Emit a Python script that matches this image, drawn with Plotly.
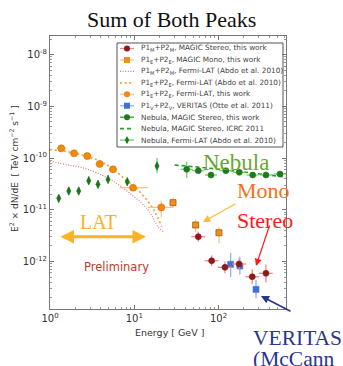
import plotly.graph_objects as go

# ---------------- data ----------------
# Fermi-LAT, this work (P1E+P2E) - orange circles
lat_E    = [1.36, 1.93, 2.77, 3.89, 5.59, 9.66, 20.9]
lat_Elo  = [1.20, 1.70, 2.45, 3.45, 4.95, 6.7, 14.5]
lat_Ehi  = [1.54, 2.18, 3.12, 4.40, 6.30, 14.5, 28.8]
lat_F    = [1.54e-10, 1.23e-10, 1.09e-10, 7.66e-11, 6.05e-11, 2.67e-11, 1.11e-11]
lat_Flo  = [1.45e-10, 1.16e-10, 1.02e-10, 7.1e-11, 5.5e-11, 2.35e-11, 7.1e-12]
lat_Fhi  = [1.63e-10, 1.30e-10, 1.16e-10, 8.2e-11, 6.6e-11, 3.0e-11, 1.5e-11]

# MAGIC Mono (P1E+P2E) - orange squares
mono_E   = [28.8, 53.5, 101]
mono_Elo = [26.5, 50.0, 95.0]
mono_Ehi = [31.5, 57.0, 107]
mono_F   = [1.37e-11, 5.06e-12, 3.59e-12]
mono_Flo = [1.07e-11, 3.7e-12, 2.25e-12]
mono_Fhi = [1.7e-11, 6.5e-12, 4.7e-12]

# MAGIC Stereo (P1M+P2M) - dark red circles
st_E   = [57.4, 82.8, 119, 175, 251, 365]
st_Elo = [47.5, 68.5, 98, 145, 208, 300]
st_Ehi = [69.5, 100, 144, 212, 304, 440]
st_F   = [3.01e-12, 1.03e-12, 7.69e-13, 8.91e-13, 5.06e-13, 5.89e-13]
st_Flo = [2.4e-12, 8.2e-13, 5.9e-13, 6.9e-13, 3.6e-13, 3.9e-13]
st_Fhi = [3.75e-12, 1.3e-12, 1.0e-12, 1.15e-12, 7.0e-13, 8.7e-13]

# VERITAS (P1V+P2V) - blue squares
ver_E   = [139, 179, 278]
ver_Elo = [133, 171, 266]
ver_Ehi = [145, 187, 290]
ver_F   = [8.79e-13, 8.17e-13, 2.88e-13]
ver_Flo = [5.0e-13, 5.5e-13, 1.95e-13]
ver_Fhi = [1.46e-12, 1.23e-12, 4.35e-13]

# Nebula, MAGIC Stereo, this work - green circles
nm_E   = [41.9, 57.4, 81.3, 122, 176, 254, 365, 535]
nm_Elo = [35.5, 48.6, 68.9, 103, 149, 215, 309, 453]
nm_Ehi = [49.4, 67.7, 95.9, 144, 208, 300, 431, 631]
nm_F   = [6.05e-11, 5.69e-11, 4.69e-11, 5.69e-11, 5.30e-11, 4.69e-11, 4.69e-11, 4.91e-11]
nm_Flo = [4.1e-11, 5.2e-11, 4.3e-11, 5.25e-11, 4.9e-11, 4.3e-11, 4.3e-11, 4.5e-11]
nm_Fhi = [8.5e-11, 6.2e-11, 5.1e-11, 6.15e-11, 5.7e-11, 5.1e-11, 5.1e-11, 5.35e-11]

# Nebula, MAGIC Stereo, ICRC 2011 - dashed line
nicrc_E = [30, 60, 120, 250, 640]
nicrc_F = [7.33e-11, 6.61e-11, 5.89e-11, 5.13e-11, 4.27e-11]

# Nebula, Fermi-LAT (Abdo et al. 2010) - green diamonds
nf_E   = [1.27, 1.67, 2.19, 2.88, 3.71, 4.88, 8.26, 18.6]
nf_F   = [1.66e-11, 2.30e-11, 2.30e-11, 3.64e-11, 3.10e-11, 3.86e-11, 3.48e-11, 7.02e-11]
nf_Flo = [1.38e-11, 1.92e-11, 1.92e-11, 3.03e-11, 2.58e-11, 3.22e-11, 2.90e-11, 5.1e-11]
nf_Fhi = [1.99e-11, 2.76e-11, 2.76e-11, 4.37e-11, 3.72e-11, 4.63e-11, 4.18e-11, 1.0e-10]

# Fermi-LAT (Abdo et al. 2010) curves
fm_E = [1.0, 1.64, 2.46, 3.71, 5.59, 8.41, 14.6, 19.1, 22.1]
fm_F = [8.75e-11, 7.33e-11, 6.46e-11, 5.06e-11, 3.59e-11, 2.23e-11, 9.9e-12, 4.69e-12, 3.76e-12]
fe_E = [1.0, 1.88, 2.75, 4.06, 5.59, 7.98, 11.1, 14.6, 17.6, 21.1]
fe_F = [1.46e-10, 1.27e-10, 1.07e-10, 8.5e-11, 6.12e-11, 3.76e-11, 2.40e-11, 1.43e-11, 9.0e-12, 4.69e-12]

# ---------------- layout helpers ----------------
W, H = 343, 366
L, R, T, B = 50, 57, 36, 57
PW, PH = W - L - R, H - T - B


def px(x):
    return (x - L) / PW


def py(y):
    return (H - B - y) / PH


def err(vals, lo, hi):
    return dict(plus=[h - v for v, h in zip(vals, hi)], minus=[v - l for v, l in zip(vals, lo)])


fig = go.Figure()


def add_points(E, F, Elo, Ehi, Flo, Fhi, symbol, mcolor, ecolor, size=6, lw=0.6, lcol=None):
    ex = err(E, Elo, Ehi) if Elo is not None else None
    ey = err(F, Flo, Fhi)
    fig.add_trace(go.Scatter(
        x=E, y=F, mode="markers",
        marker=dict(symbol=symbol, size=size, color=mcolor,
                    line=dict(width=lw, color=lcol or mcolor)),
        error_y=dict(type="data", symmetric=False, array=ey["plus"], arrayminus=ey["minus"],
                     color=ecolor, thickness=1.3, width=0),
        error_x=(dict(type="data", symmetric=False, array=ex["plus"], arrayminus=ex["minus"],
                      color=ecolor, thickness=1.3, width=0) if ex else None),
        showlegend=False, hoverinfo="skip"))


RED_DOT = "1px,1.6px"
ORA_DOT = "2px,2.6px"

# curves
fig.add_trace(go.Scatter(x=fm_E, y=fm_F, mode="lines", line=dict(color="#e07070", width=1.1, dash=RED_DOT),
                         line_shape="spline", showlegend=False))
fig.add_trace(go.Scatter(x=fe_E, y=fe_F, mode="lines", line=dict(color="#f7a13a", width=1.7, dash=ORA_DOT),
                         line_shape="spline", showlegend=False))
fig.add_trace(go.Scatter(x=nicrc_E, y=nicrc_F, mode="lines", line=dict(color="#2ca02c", width=1.6, dash="4px,3px"),
                         line_shape="spline", showlegend=False))

add_points(nf_E, nf_F, None, None, nf_Flo, nf_Fhi, "diamond-tall", "#1a741a", "#6fcf6f", size=6)
add_points(nm_E, nm_F, nm_Elo, nm_Ehi, nm_Flo, nm_Fhi, "circle", "#1d7a1d", "#6fcf6f", size=6)
add_points(lat_E, lat_F, lat_Elo, lat_Ehi, lat_Flo, lat_Fhi, "circle", "#f28a0c", "#f9c48a", size=7,
           lcol="#c86a00")
add_points(mono_E, mono_F, mono_Elo, mono_Ehi, mono_Flo, mono_Fhi, "square", "#f0901a", "#f9c48a", size=6,
           lw=0.8, lcol="#9a5a10")
add_points(ver_E, ver_F, ver_Elo, ver_Ehi, ver_Flo, ver_Fhi, "square", "#3f72d6", "#8fb0f0", size=6)
add_points(st_E, st_F, st_Elo, st_Ehi, st_Flo, st_Fhi, "circle", "#8b1a1a", "#ef8a8a", size=6)

# ---------------- manual legend ----------------
leg_labels = [
    "P1<sub>M</sub>+P2<sub>M</sub>, MAGIC Stereo, this work",
    "P1<sub>E</sub>+P2<sub>E</sub>, MAGIC Mono, this work",
    "P1<sub>M</sub>+P2<sub>M</sub>, Fermi-LAT (Abdo et al. 2010)",
    "P1<sub>E</sub>+P2<sub>E</sub>, Fermi-LAT (Abdo et al. 2010)",
    "P1<sub>E</sub>+P2<sub>E</sub>, Fermi-LAT, this work",
    "P1<sub>V</sub>+P2<sub>V</sub>, VERITAS (Otte et al. 2011)",
    "Nebula, MAGIC Stereo, this work",
    "Nebula, MAGIC Stereo, ICRC 2011",
    "Nebula, Fermi-LAT (Abdo et al. 2010)",
]
leg_line = [("#ef8a8a", "solid", 1.3), ("#f9c48a", "solid", 1.3), ("#e07070", RED_DOT, 1.1),
            ("#f7a13a", ORA_DOT, 1.7), ("#f9c48a", "solid", 1.3), ("#8fb0f0", "solid", 1.3),
            ("#2ca02c", "solid", 1.3), ("#2ca02c", "4px,3px", 1.6), ("#6fcf6f", "solid", 1.3)]
leg_marker = [("circle", "#8b1a1a"), ("square", "#f0901a"), None, None, ("circle", "#f28a0c"),
              ("square", "#3f72d6"), ("circle", "#1d7a1d"), None, ("diamond-tall", "#1a741a")]

fig.add_shape(type="rect", xref="paper", yref="paper", x0=px(117), x1=px(283), y0=py(147), y1=py(43),
              line=dict(color="#555555", width=1), fillcolor="white", layer="below")
row0, dy = 48.5, 11.45
for i, lab in enumerate(leg_labels):
    yy = row0 + i * dy
    col, dash, w = leg_line[i]
    fig.add_shape(type="line", xref="paper", yref="paper", x0=px(120), x1=px(134), y0=py(yy), y1=py(yy),
                  line=dict(color=col, width=w, dash=dash), layer="below")
    fig.add_annotation(xref="paper", yref="paper", x=px(139), y=py(yy), text=lab, showarrow=False,
                       xanchor="left", yanchor="middle", font=dict(family="DejaVu Sans", size=7.3, color="#444444"))
    if leg_marker[i]:
        sym, c = leg_marker[i]
        fig.add_trace(go.Scatter(x=[127], y=[yy], xaxis="x2", yaxis="y2", mode="markers",
                                 marker=dict(symbol=sym, size=6, color=c), showlegend=False, hoverinfo="skip"))

# ---------------- text annotations ----------------
def txt(x, y, s, size, color, family="Liberation Serif", xanchor="left", height=None):
    fig.add_annotation(xref="paper", yref="paper", x=px(x), y=py(y), text=s, showarrow=False,
                       xanchor=xanchor, yanchor="middle", height=height,
                       font=dict(family=family, size=size, color=color))


txt(171, 19, "Sum of Both Peaks", 22, "#111111", xanchor="center")
txt(201, 162, "Nebula", 23, "#6aa832")
txt(235, 190, "Mono", 22, "#f7701e")
txt(235, 220, "Stereo", 22, "#ff1a1a")
txt(78, 222, "LAT", 20, "#fbb12a")
txt(82, 267, "Preliminary", 11.5, "#c0392b", family="DejaVu Sans")
txt(251, 337, "VERITAS", 21.5, "#2b3590", height=21)
txt(251, 358, "(McCann", 21.5, "#2b3590", height=21)
txt(169, 332, "Energy [ GeV ]", 9.5, "#333333", family="DejaVu Sans", xanchor="center")
fig.add_annotation(xref="paper", yref="paper", x=px(14), y=py(169), xanchor="center", yanchor="middle",
                   text="E<sup>2</sup> × dN/dE  [ TeV cm<sup>−2</sup> s<sup>−1</sup> ]", showarrow=False,
                   textangle=-90, font=dict(family="DejaVu Sans", size=9, color="#333333"))


def arrow(x0, y0, x1, y1, color, width, head=2, size=1.0, side="end"):
    fig.add_annotation(xref="x2", yref="y2", axref="x2", ayref="y2",
                       x=x1, y=y1, ax=x0, ay=y0, text="", showarrow=True,
                       arrowcolor=color, arrowwidth=width, arrowhead=head, arrowsize=size,
                       startarrowhead=head, startarrowsize=size, arrowside=side)


arrow(59, 236.7, 146, 236.7, "#fbb12a", 3, head=2, size=0.9, side="end+start")
arrow(237, 203, 203, 222, "#fbb83a", 1.2, head=2, size=1.2)
arrow(270, 224, 256, 266, "#ff1a1a", 1.2, head=2, size=1.2)
arrow(292, 312, 261, 296, "#2b3590", 1.6, head=2, size=1.0)

# ---------------- axes ----------------
dec_x = [1, 10, 100]
dec_y = [1e-12, 1e-11, 1e-10, 1e-9, 1e-8]
x_txt = ["10<sup>0</sup>", "10<sup>1</sup>", "10<sup>2</sup>"]
y_txt = ["10<sup>-12</sup>", "10<sup>-11</sup>", "10<sup>-10</sup>", "10<sup>-9</sup>", "10<sup>-8</sup>"]
minor_x = [m * d for d in [1, 10, 100] for m in range(2, 10)]
minor_y = [m * d for d in [1e-13, 1e-12, 1e-11, 1e-10, 1e-9, 1e-8] for m in range(2, 10)]

axis_common = dict(type="log", showgrid=False, zeroline=False, showline=True, linecolor="#777777",
                   linewidth=1, mirror="ticks", ticks="inside", ticklen=4, tickcolor="#777777",
                   tickfont=dict(family="DejaVu Sans", size=10, color="#333333"))
fig.update_layout(
    width=W, height=H, margin=dict(l=L, r=R, t=T, b=B),
    paper_bgcolor="white", plot_bgcolor="white",
    xaxis=dict(range=[0, 2.8], tickmode="array", tickvals=dec_x, ticktext=x_txt,
               minor=dict(tickmode="array", tickvals=minor_x, ticks="inside", ticklen=2, tickcolor="#999999"),
               **axis_common),
    yaxis=dict(range=[-12.92, -7.64], tickmode="array", tickvals=dec_y, ticktext=y_txt,
               minor=dict(tickmode="array", tickvals=minor_y, ticks="inside", ticklen=2, tickcolor="#999999"),
               **axis_common),
    xaxis2=dict(overlaying="x", range=[L, W - R], visible=False, fixedrange=True),
    yaxis2=dict(overlaying="y", range=[H - B, T], visible=False, fixedrange=True),
    showlegend=False,
)

fig.write_html("out.html")
